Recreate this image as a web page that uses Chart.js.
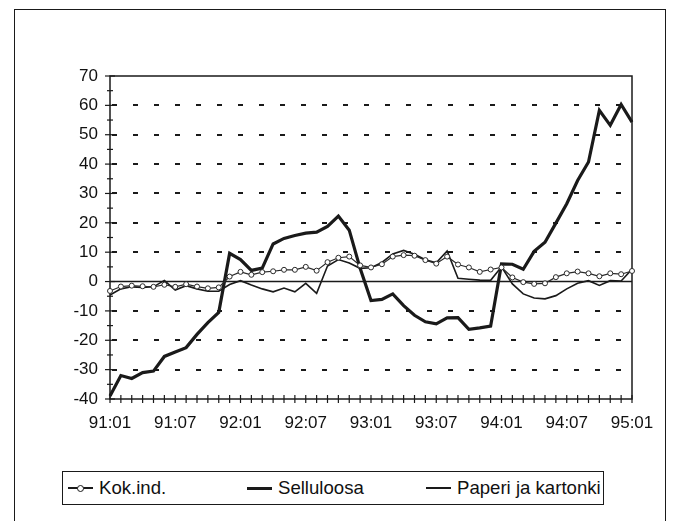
<!DOCTYPE html>
<html>
<head>
<meta charset="utf-8">
<script src="https://cdn.jsdelivr.net/npm/chart.js@4.4.1/dist/chart.umd.min.js"></script>
<style>
  html, body { margin: 0; padding: 0; background: #fff; }
  body { width: 675px; height: 521px; position: relative; overflow: hidden; font-family: "Liberation Sans", Arial, sans-serif; }
  #frame { position: absolute; left: 14px; top: 9px; width: 652px; height: 540px; border: 1.5px solid #1a1a1a; box-sizing: border-box; }
  #wrap { position: absolute; left: 0; top: 0; width: 675px; height: 521px; }
  #legend { position: absolute; left: 62px; top: 471px; width: 542px; height: 34px; border: 1.5px solid #1a1a1a; box-sizing: border-box; overflow: hidden; background: #fff; }
  .item { position: absolute; top: 0; height: 31px; }
  .swatch { position: absolute; left: 0; width: 25px; }
  .dot { position: absolute; left: 9px; width: 5px; height: 5px; border: 1px solid #1a1a1a; border-radius: 50%; background: #fff; }
  .text { position: absolute; left: 31px; top: 0; line-height: 31px; font-size: 18.6px; color: #111; white-space: nowrap; }
</style>
</head>
<body>
<div id="frame"></div>
<div id="wrap"><canvas id="chart"></canvas></div>
<div id="legend"></div>

<script>
const INK = '#1a1a1a';

// months 91:01 .. 95:01
const years = ['91', '92', '93', '94', '95'];
const categories = [];
years.forEach(yy => {
    for (let m = 1; m <= 12; m++) {
        if (yy === '95' && m > 1) break;
        categories.push(yy + ':' + String(m).padStart(2, '0'));
    }
});

const yTicks = [-40, -30, -20, -10, 0, 10, 20, 30, 40, 50, 60, 70];

const seriesNames = ['Kok.ind.', 'Selluloosa', 'Paperi ja kartonki'];

const kokInd = [
    -3.2, -1.7, -1.4, -1.6, -1.8, -1.1, -1.8, -0.9, -1.7, -2.3, -2.0, 1.7,
    3.3, 2.3, 3.2, 3.5, 4.0, 4.0, 5.0, 3.7, 6.6, 8.1, 8.5, 5.5,
    4.8, 5.9, 8.5, 9.0, 8.8, 7.3, 6.1, 8.5, 5.8, 4.8, 3.3, 4.1,
    4.8, 1.4, -0.2, -0.8, -0.6, 1.5, 2.8, 3.4, 2.8, 1.8, 2.8, 2.5,
    3.6
];

const selluloosa = [
    -39, -32, -33, -31, -30.5, -25.5, -24, -22.5, -18, -14, -10.5, 9.6,
    7.5, 3.8, 4.6, 12.8, 14.7, 15.7, 16.5, 16.8, 18.8, 22.3, 17.5, 4.5,
    -6.5, -6.1, -4.2, -8.2, -11.5, -13.7, -14.4, -12.4, -12.3, -16.3, -15.8, -15.2,
    6.0, 5.9, 4.2, 10.3, 13.4, 19.9, 26.5, 34.4, 40.7, 58.3, 53.2, 60.3,
    54.3
];

const paperi = [
    -4.6, -2.5, -1.8, -2.0, -1.8, 0.4, -2.9, -1.4, -2.5, -3.3, -3.3, -1.0,
    0.3, -1.2, -2.5, -3.5, -2.2, -3.5, -0.6, -4.0, 5.3, 7.5, 6.3, 4.5,
    4.7, 6.5, 9.4, 10.6, 9.3, 7.4, 6.4, 10.4, 1.1, 0.8, 0.5, 0.4,
    5.0, -0.8, -4.2, -5.6, -5.9, -4.8, -2.5, -0.6, 0.3, -1.3, 0.3, 0.2,
    4.2
];

// zero line, plot frame and the crossing tick marks
const axisDecor = {
    id: 'axisDecor',
    beforeDatasetsDraw(chart) {
        const { ctx, chartArea: a, scales: { x, y } } = chart;
        const line = (x1, y1, x2, y2) => { ctx.beginPath(); ctx.moveTo(x1, y1); ctx.lineTo(x2, y2); ctx.stroke(); };
        ctx.save();
        ctx.strokeStyle = INK;
        ctx.lineWidth = 1.5;
        const y0 = y.getPixelForValue(0);
        line(a.left, y0, a.right, y0);
        ctx.strokeRect(a.left, a.top, a.right - a.left, a.bottom - a.top);
        ctx.lineWidth = 1.2;
        y.ticks.forEach((t, i) => {
            const py = y.getPixelForTick(i);
            line(a.left - 5, py, a.left + 5, py);
            if (i < y.ticks.length - 1) {
                const pm = (py + y.getPixelForTick(i + 1)) / 2;
                line(a.left - 3, pm, a.left + 3, pm);
            }
        });
        x.ticks.forEach((t, i) => {
            const px = x.getPixelForTick(i);
            line(px, a.bottom - 4, px, a.bottom + 4);
        });
        ctx.restore();
    }
};

const ctx = document.getElementById('chart').getContext('2d');
const chart = new Chart(ctx, {
    type: 'line',
    data: {
        labels: categories,
        datasets: [
            {
                label: seriesNames[0],
                data: kokInd,
                borderColor: '#2a2a2a',
                borderWidth: 1.2,
                pointRadius: 2.5,
                pointBorderWidth: 1,
                pointBackgroundColor: '#fff',
                pointBorderColor: '#2a2a2a',
                tension: 0
            },
            {
                label: seriesNames[1],
                data: selluloosa,
                borderColor: INK,
                borderWidth: 3.2,
                pointRadius: 0,
                tension: 0
            },
            {
                label: seriesNames[2],
                data: paperi,
                borderColor: INK,
                borderWidth: 1.6,
                pointRadius: 0,
                tension: 0
            }
        ]
    },
    options: {
        responsive: true,
        maintainAspectRatio: false,
        animation: false,
        events: [],
        layout: { padding: { left: 0, top: 76, right: 43, bottom: 92 } },
        plugins: { legend: { display: false }, tooltip: { enabled: false } },
        scales: {
            x: {
                offset: false,
                afterFit: s => { s.height = 30; },
                grid: { display: false },
                border: { display: false },
                ticks: {
                    autoSkip: false,
                    maxRotation: 0,
                    padding: 6,
                    color: '#111',
                    font: { family: '"Liberation Sans", Arial, sans-serif', size: 17 },
                    callback: (v, i) => (i % 6 === 0 ? categories[i] : '')
                }
            },
            y: {
                min: yTicks[0],
                max: yTicks[yTicks.length - 1],
                afterFit: s => { s.width = 110; },
                afterBuildTicks: s => { s.ticks = yTicks.map(v => ({ value: v })); },
                grid: {
                    drawTicks: false,
                    lineWidth: 2,
                    color: c => (c.tick && (c.tick.value === 0 || c.tick.value === yTicks[0] || c.tick.value === yTicks[yTicks.length - 1]) ? 'rgba(0,0,0,0)' : INK)
                },
                border: { display: false, dash: [5, 16], dashOffset: 19 },
                ticks: {
                    padding: 12,
                    color: '#111',
                    font: { family: '"Liberation Sans", Arial, sans-serif', size: 17 }
                }
            }
        }
    },
    plugins: [axisDecor]
});

// legend built from the datasets
const legendEl = document.getElementById('legend');
chart.data.datasets.forEach((ds, i) => {
    const item = document.createElement('div');
    item.className = 'item';
    item.style.left = (5 + i * 179) + 'px';
    const sw = document.createElement('div');
    sw.className = 'swatch';
    const w = ds.borderWidth > 2 ? 3 : 2;
    sw.style.top = (16 - w / 2) + 'px';
    sw.style.borderTop = w + 'px solid ' + INK;
    item.appendChild(sw);
    if (ds.pointRadius > 0) {
        const dot = document.createElement('div');
        dot.className = 'dot';
        dot.style.top = '12.5px';
        item.appendChild(dot);
    }
    const tx = document.createElement('div');
    tx.className = 'text';
    tx.textContent = ds.label;
    item.appendChild(tx);
    legendEl.appendChild(item);
});
</script>
</body>
</html>
